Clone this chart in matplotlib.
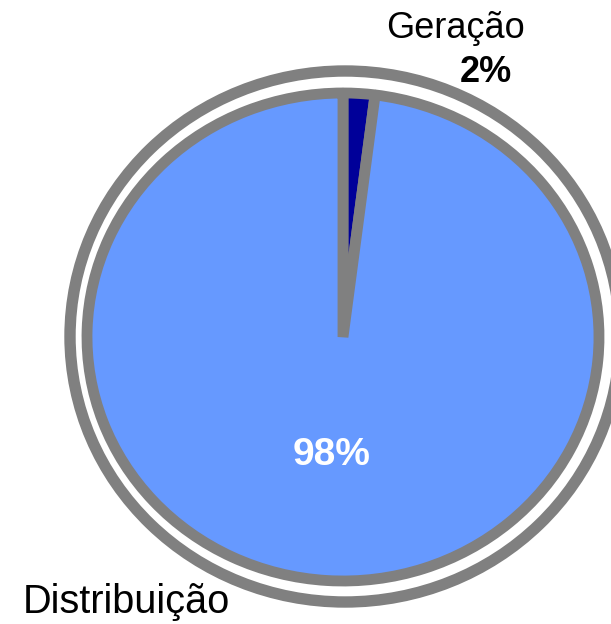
import matplotlib
matplotlib.use("Agg")
import matplotlib.pyplot as plt
from matplotlib.patches import Ellipse

plt.rcParams["font.family"] = ["Liberation Sans", "DejaVu Sans"]

# data
categories = ["Geração", "Distribuição"]
shares = [2, 98]
pct_labels = ["2%", "98%"]
colors = ["#000099", "#6699FF"]

W, H = 611, 624
edge = "#808080"

# pie is a bit wider than tall in the picture, so scale y
sy = 244 / 256
cx, cy = 343, 337

fig = plt.figure(figsize=(W / 100, H / 100), dpi=100)
ax = fig.add_axes([0, 0, 1, 1])

ax.pie(shares, colors=colors, startangle=90, counterclock=False,
       radius=256, center=(cx, (H - cy) / sy),
       wedgeprops=dict(edgecolor=edge, linewidth=7.8, joinstyle="bevel"))

# outer ring (runs off the right edge)
ring = Ellipse((345, (H - 336.5) / sy), width=2 * 275, height=2 * 265.5 / sy,
               fill=False, edgecolor=edge, linewidth=8.2)
ax.add_patch(ring)

ax.set_aspect("auto")
ax.set_xlim(0, W)
ax.set_ylim(0, H / sy)
ax.axis("off")

def px(x, y):
    return x / W, 1 - y / H

fig.text(*px(455, 29), categories[0], fontsize=26, ha="center", va="center")
fig.text(*px(486, 73), pct_labels[0], fontsize=26, fontweight="bold",
         ha="center", va="center")
fig.text(*px(126, 602), categories[1], fontsize=28.6, ha="center", va="center")
fig.text(*px(332, 455), pct_labels[1], fontsize=28, fontweight="bold",
         color="white", ha="center", va="center")

fig.savefig("out.png", dpi=100)
